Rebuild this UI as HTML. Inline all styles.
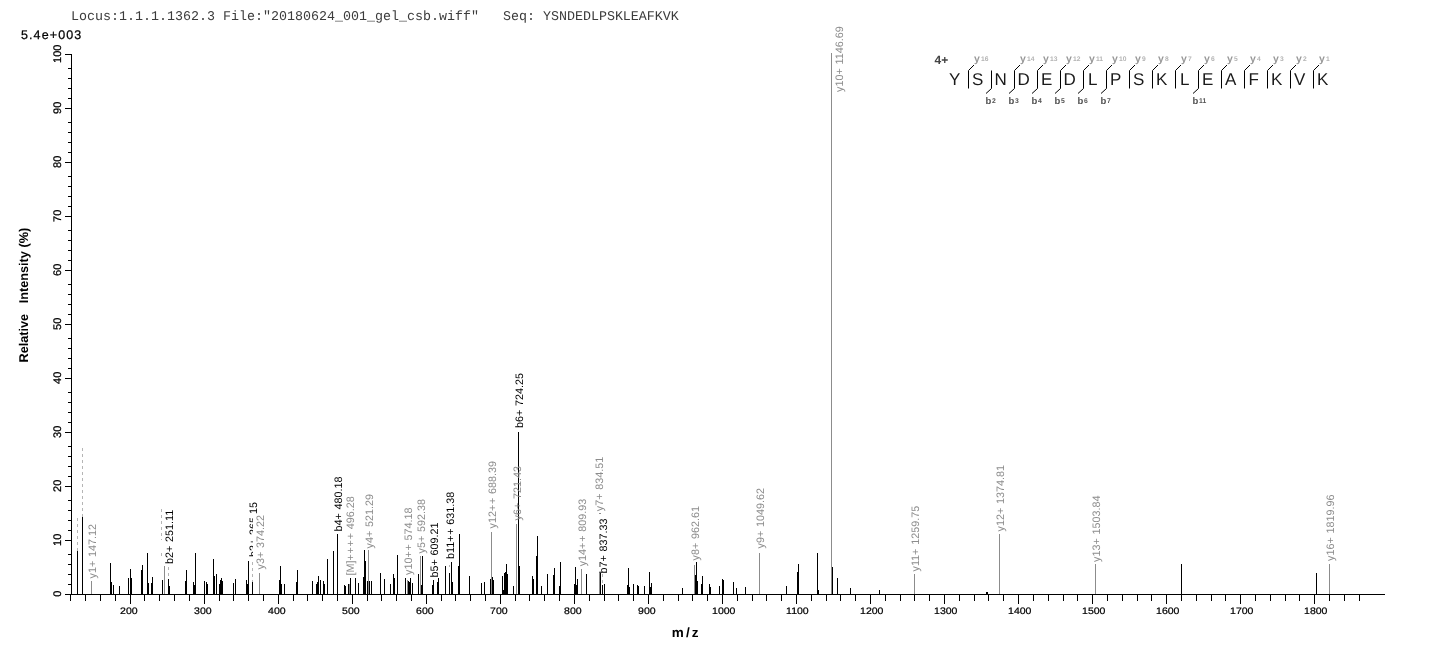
<!DOCTYPE html>
<html><head><meta charset="utf-8"><title>Spectrum</title>
<style>html,body{margin:0;padding:0;background:#fff;}body{width:1436px;height:654px;overflow:hidden;}svg{display:block;}</style>
</head><body>
<svg width="1436" height="654" viewBox="0 0 1436 654" shape-rendering="crispEdges" text-rendering="geometricPrecision">
<rect width="1436" height="654" fill="#fff"/>
<g id="peaks">
<rect x="77" y="551" width="1" height="43" fill="#000"/>
<rect x="82" y="517" width="1" height="77" fill="#000"/>
<rect x="91" y="581" width="1" height="13" fill="#8c8c8c"/>
<rect x="110" y="563" width="1" height="31" fill="#000"/>
<rect x="111" y="582" width="1" height="12" fill="#000"/>
<rect x="113" y="585" width="1" height="9" fill="#000"/>
<rect x="119" y="586" width="1" height="8" fill="#000"/>
<rect x="128" y="578" width="1" height="16" fill="#000"/>
<rect x="130" y="569" width="1" height="25" fill="#000"/>
<rect x="131" y="578" width="1" height="16" fill="#000"/>
<rect x="141" y="570" width="1" height="24" fill="#000"/>
<rect x="142" y="565" width="1" height="29" fill="#000"/>
<rect x="147" y="553" width="1" height="41" fill="#000"/>
<rect x="148" y="583" width="1" height="11" fill="#000"/>
<rect x="151" y="583" width="1" height="11" fill="#000"/>
<rect x="152" y="577" width="1" height="17" fill="#000"/>
<rect x="162" y="580" width="1" height="14" fill="#000"/>
<rect x="164" y="566" width="1" height="28" fill="#8c8c8c"/>
<rect x="168" y="579" width="1" height="15" fill="#000"/>
<rect x="169" y="586" width="1" height="8" fill="#000"/>
<rect x="185" y="581" width="1" height="13" fill="#000"/>
<rect x="186" y="570" width="1" height="24" fill="#000"/>
<rect x="193" y="582" width="1" height="12" fill="#000"/>
<rect x="194" y="585" width="1" height="9" fill="#000"/>
<rect x="195" y="553" width="1" height="41" fill="#000"/>
<rect x="204" y="581" width="1" height="13" fill="#000"/>
<rect x="206" y="582" width="1" height="12" fill="#000"/>
<rect x="207" y="584" width="1" height="10" fill="#000"/>
<rect x="213" y="559" width="1" height="35" fill="#000"/>
<rect x="214" y="576" width="1" height="18" fill="#000"/>
<rect x="216" y="574" width="1" height="20" fill="#000"/>
<rect x="219" y="584" width="1" height="10" fill="#000"/>
<rect x="220" y="580" width="1" height="14" fill="#000"/>
<rect x="221" y="578" width="1" height="16" fill="#000"/>
<rect x="222" y="581" width="1" height="13" fill="#000"/>
<rect x="233" y="583" width="1" height="11" fill="#000"/>
<rect x="235" y="579" width="1" height="15" fill="#000"/>
<rect x="246" y="580" width="1" height="14" fill="#000"/>
<rect x="247" y="584" width="1" height="10" fill="#000"/>
<rect x="248" y="561" width="1" height="33" fill="#000"/>
<rect x="252" y="582" width="1" height="12" fill="#000"/>
<rect x="259" y="573" width="1" height="21" fill="#8c8c8c"/>
<rect x="279" y="580" width="1" height="14" fill="#000"/>
<rect x="280" y="566" width="1" height="28" fill="#000"/>
<rect x="281" y="584" width="1" height="10" fill="#000"/>
<rect x="284" y="584" width="1" height="10" fill="#000"/>
<rect x="296" y="582" width="1" height="12" fill="#000"/>
<rect x="297" y="570" width="1" height="24" fill="#000"/>
<rect x="312" y="581" width="1" height="13" fill="#000"/>
<rect x="316" y="584" width="1" height="10" fill="#000"/>
<rect x="317" y="582" width="1" height="12" fill="#000"/>
<rect x="318" y="576" width="1" height="18" fill="#000"/>
<rect x="320" y="580" width="1" height="14" fill="#000"/>
<rect x="323" y="581" width="1" height="13" fill="#000"/>
<rect x="324" y="584" width="1" height="10" fill="#000"/>
<rect x="327" y="559" width="1" height="35" fill="#000"/>
<rect x="333" y="551" width="1" height="43" fill="#000"/>
<rect x="337" y="534" width="1" height="60" fill="#000"/>
<rect x="344" y="585" width="1" height="9" fill="#000"/>
<rect x="345" y="586" width="1" height="8" fill="#000"/>
<rect x="348" y="584" width="1" height="10" fill="#000"/>
<rect x="349" y="584" width="1" height="10" fill="#8c8c8c"/>
<rect x="350" y="578" width="1" height="16" fill="#000"/>
<rect x="355" y="578" width="1" height="16" fill="#000"/>
<rect x="358" y="583" width="1" height="11" fill="#000"/>
<rect x="363" y="577" width="1" height="17" fill="#000"/>
<rect x="364" y="550" width="1" height="44" fill="#000"/>
<rect x="365" y="561" width="1" height="33" fill="#000"/>
<rect x="367" y="581" width="1" height="13" fill="#000"/>
<rect x="368" y="550" width="1" height="44" fill="#8c8c8c"/>
<rect x="369" y="581" width="1" height="13" fill="#000"/>
<rect x="371" y="581" width="1" height="13" fill="#000"/>
<rect x="380" y="573" width="1" height="21" fill="#000"/>
<rect x="384" y="579" width="1" height="15" fill="#000"/>
<rect x="390" y="584" width="1" height="10" fill="#000"/>
<rect x="393" y="574" width="1" height="20" fill="#000"/>
<rect x="394" y="578" width="1" height="16" fill="#000"/>
<rect x="397" y="555" width="1" height="39" fill="#000"/>
<rect x="405" y="578" width="1" height="16" fill="#000"/>
<rect x="407" y="580" width="1" height="14" fill="#8c8c8c"/>
<rect x="408" y="581" width="1" height="13" fill="#000"/>
<rect x="409" y="582" width="1" height="12" fill="#000"/>
<rect x="410" y="578" width="1" height="16" fill="#000"/>
<rect x="412" y="583" width="1" height="11" fill="#000"/>
<rect x="418" y="574" width="1" height="20" fill="#000"/>
<rect x="420" y="556" width="1" height="38" fill="#8c8c8c"/>
<rect x="421" y="585" width="1" height="9" fill="#000"/>
<rect x="422" y="556" width="1" height="38" fill="#000"/>
<rect x="432" y="585" width="1" height="9" fill="#000"/>
<rect x="433" y="580" width="1" height="14" fill="#000"/>
<rect x="437" y="582" width="1" height="12" fill="#000"/>
<rect x="438" y="578" width="1" height="16" fill="#000"/>
<rect x="445" y="566" width="1" height="28" fill="#000"/>
<rect x="449" y="573" width="1" height="21" fill="#000"/>
<rect x="451" y="562" width="1" height="32" fill="#000"/>
<rect x="452" y="582" width="1" height="12" fill="#000"/>
<rect x="458" y="566" width="1" height="28" fill="#000"/>
<rect x="459" y="534" width="1" height="60" fill="#000"/>
<rect x="469" y="576" width="1" height="18" fill="#000"/>
<rect x="481" y="583" width="1" height="11" fill="#000"/>
<rect x="484" y="582" width="1" height="12" fill="#000"/>
<rect x="490" y="579" width="1" height="15" fill="#000"/>
<rect x="491" y="532" width="1" height="62" fill="#8c8c8c"/>
<rect x="492" y="577" width="1" height="17" fill="#000"/>
<rect x="493" y="580" width="1" height="14" fill="#000"/>
<rect x="502" y="576" width="1" height="18" fill="#000"/>
<rect x="503" y="590" width="1" height="4" fill="#000"/>
<rect x="504" y="573" width="1" height="21" fill="#000"/>
<rect x="505" y="572" width="1" height="22" fill="#000"/>
<rect x="506" y="564" width="1" height="30" fill="#000"/>
<rect x="507" y="574" width="1" height="20" fill="#000"/>
<rect x="513" y="586" width="1" height="8" fill="#000"/>
<rect x="516" y="524" width="1" height="70" fill="#8c8c8c"/>
<rect x="518" y="432" width="1" height="162" fill="#000"/>
<rect x="519" y="566" width="1" height="28" fill="#000"/>
<rect x="532" y="576" width="1" height="18" fill="#000"/>
<rect x="533" y="579" width="1" height="15" fill="#000"/>
<rect x="536" y="556" width="1" height="38" fill="#000"/>
<rect x="537" y="536" width="1" height="58" fill="#000"/>
<rect x="541" y="586" width="1" height="8" fill="#000"/>
<rect x="547" y="574" width="1" height="20" fill="#000"/>
<rect x="553" y="575" width="1" height="19" fill="#000"/>
<rect x="554" y="568" width="1" height="26" fill="#000"/>
<rect x="559" y="586" width="1" height="8" fill="#000"/>
<rect x="560" y="562" width="1" height="32" fill="#000"/>
<rect x="574" y="584" width="1" height="10" fill="#000"/>
<rect x="575" y="567" width="1" height="27" fill="#000"/>
<rect x="576" y="585" width="1" height="9" fill="#000"/>
<rect x="577" y="579" width="1" height="15" fill="#000"/>
<rect x="581" y="569" width="1" height="25" fill="#8c8c8c"/>
<rect x="586" y="574" width="1" height="20" fill="#000"/>
<rect x="599" y="573" width="1" height="21" fill="#8c8c8c"/>
<rect x="600" y="573" width="1" height="21" fill="#000"/>
<rect x="602" y="585" width="1" height="9" fill="#000"/>
<rect x="604" y="584" width="1" height="10" fill="#000"/>
<rect x="627" y="585" width="1" height="9" fill="#000"/>
<rect x="628" y="568" width="1" height="26" fill="#000"/>
<rect x="629" y="587" width="1" height="7" fill="#000"/>
<rect x="633" y="584" width="1" height="10" fill="#000"/>
<rect x="637" y="585" width="1" height="9" fill="#000"/>
<rect x="638" y="586" width="1" height="8" fill="#000"/>
<rect x="644" y="586" width="1" height="8" fill="#000"/>
<rect x="649" y="572" width="1" height="22" fill="#000"/>
<rect x="650" y="587" width="1" height="7" fill="#000"/>
<rect x="651" y="583" width="1" height="11" fill="#000"/>
<rect x="682" y="588" width="1" height="6" fill="#000"/>
<rect x="694" y="565" width="1" height="29" fill="#8c8c8c"/>
<rect x="695" y="575" width="1" height="19" fill="#000"/>
<rect x="696" y="562" width="1" height="32" fill="#000"/>
<rect x="697" y="581" width="1" height="13" fill="#000"/>
<rect x="701" y="584" width="1" height="10" fill="#000"/>
<rect x="702" y="576" width="1" height="18" fill="#000"/>
<rect x="709" y="584" width="1" height="10" fill="#000"/>
<rect x="710" y="587" width="1" height="7" fill="#000"/>
<rect x="719" y="586" width="1" height="8" fill="#000"/>
<rect x="722" y="579" width="1" height="15" fill="#000"/>
<rect x="723" y="580" width="1" height="14" fill="#000"/>
<rect x="733" y="582" width="1" height="12" fill="#000"/>
<rect x="736" y="588" width="1" height="6" fill="#000"/>
<rect x="745" y="587" width="1" height="7" fill="#000"/>
<rect x="759" y="553" width="1" height="41" fill="#8c8c8c"/>
<rect x="786" y="586" width="1" height="8" fill="#000"/>
<rect x="797" y="572" width="1" height="22" fill="#000"/>
<rect x="798" y="564" width="1" height="30" fill="#000"/>
<rect x="817" y="553" width="1" height="41" fill="#000"/>
<rect x="818" y="590" width="1" height="4" fill="#000"/>
<rect x="831" y="53" width="1" height="541" fill="#8c8c8c"/>
<rect x="832" y="567" width="1" height="27" fill="#000"/>
<rect x="837" y="578" width="1" height="16" fill="#000"/>
<rect x="850" y="588" width="1" height="6" fill="#000"/>
<rect x="879" y="590" width="1" height="4" fill="#000"/>
<rect x="914" y="574" width="1" height="20" fill="#8c8c8c"/>
<rect x="986" y="592" width="1" height="2" fill="#000"/>
<rect x="987" y="592" width="1" height="2" fill="#000"/>
<rect x="999" y="534" width="1" height="60" fill="#8c8c8c"/>
<rect x="1095" y="564" width="1" height="30" fill="#8c8c8c"/>
<rect x="1181" y="564" width="1" height="30" fill="#000"/>
<rect x="1316" y="573" width="1" height="21" fill="#000"/>
<rect x="1329" y="564" width="1" height="30" fill="#8c8c8c"/>
</g>
<g id="axes" fill="#000">
<rect x="71" y="54" width="1" height="541"/>
<rect x="71" y="594" width="1314" height="1"/>
<rect x="65" y="594" width="6" height="1"/>
<rect x="68" y="584" width="3" height="1"/>
<rect x="68" y="574" width="3" height="1"/>
<rect x="68" y="564" width="3" height="1"/>
<rect x="68" y="554" width="3" height="1"/>
<rect x="65" y="540" width="6" height="1"/>
<rect x="68" y="530" width="3" height="1"/>
<rect x="68" y="520" width="3" height="1"/>
<rect x="68" y="510" width="3" height="1"/>
<rect x="68" y="500" width="3" height="1"/>
<rect x="65" y="486" width="6" height="1"/>
<rect x="68" y="476" width="3" height="1"/>
<rect x="68" y="466" width="3" height="1"/>
<rect x="68" y="456" width="3" height="1"/>
<rect x="68" y="446" width="3" height="1"/>
<rect x="65" y="432" width="6" height="1"/>
<rect x="68" y="422" width="3" height="1"/>
<rect x="68" y="412" width="3" height="1"/>
<rect x="68" y="402" width="3" height="1"/>
<rect x="68" y="392" width="3" height="1"/>
<rect x="65" y="378" width="6" height="1"/>
<rect x="68" y="368" width="3" height="1"/>
<rect x="68" y="358" width="3" height="1"/>
<rect x="68" y="348" width="3" height="1"/>
<rect x="68" y="338" width="3" height="1"/>
<rect x="65" y="324" width="6" height="1"/>
<rect x="68" y="314" width="3" height="1"/>
<rect x="68" y="304" width="3" height="1"/>
<rect x="68" y="294" width="3" height="1"/>
<rect x="68" y="284" width="3" height="1"/>
<rect x="65" y="270" width="6" height="1"/>
<rect x="68" y="260" width="3" height="1"/>
<rect x="68" y="250" width="3" height="1"/>
<rect x="68" y="240" width="3" height="1"/>
<rect x="68" y="230" width="3" height="1"/>
<rect x="65" y="216" width="6" height="1"/>
<rect x="68" y="206" width="3" height="1"/>
<rect x="68" y="196" width="3" height="1"/>
<rect x="68" y="186" width="3" height="1"/>
<rect x="68" y="176" width="3" height="1"/>
<rect x="65" y="162" width="6" height="1"/>
<rect x="68" y="152" width="3" height="1"/>
<rect x="68" y="142" width="3" height="1"/>
<rect x="68" y="132" width="3" height="1"/>
<rect x="68" y="122" width="3" height="1"/>
<rect x="65" y="108" width="6" height="1"/>
<rect x="68" y="98" width="3" height="1"/>
<rect x="68" y="88" width="3" height="1"/>
<rect x="68" y="78" width="3" height="1"/>
<rect x="68" y="68" width="3" height="1"/>
<rect x="65" y="54" width="6" height="1"/>
<rect x="70" y="594" width="1" height="7"/>
<rect x="85" y="594" width="1" height="7"/>
<rect x="100" y="594" width="1" height="7"/>
<rect x="115" y="594" width="1" height="7"/>
<rect x="130" y="594" width="1" height="10"/>
<rect x="144" y="594" width="1" height="7"/>
<rect x="159" y="594" width="1" height="7"/>
<rect x="174" y="594" width="1" height="7"/>
<rect x="189" y="594" width="1" height="7"/>
<rect x="204" y="594" width="1" height="10"/>
<rect x="219" y="594" width="1" height="7"/>
<rect x="233" y="594" width="1" height="7"/>
<rect x="248" y="594" width="1" height="7"/>
<rect x="263" y="594" width="1" height="7"/>
<rect x="278" y="594" width="1" height="10"/>
<rect x="293" y="594" width="1" height="7"/>
<rect x="307" y="594" width="1" height="7"/>
<rect x="322" y="594" width="1" height="7"/>
<rect x="337" y="594" width="1" height="7"/>
<rect x="352" y="594" width="1" height="10"/>
<rect x="367" y="594" width="1" height="7"/>
<rect x="381" y="594" width="1" height="7"/>
<rect x="396" y="594" width="1" height="7"/>
<rect x="411" y="594" width="1" height="7"/>
<rect x="426" y="594" width="1" height="10"/>
<rect x="441" y="594" width="1" height="7"/>
<rect x="455" y="594" width="1" height="7"/>
<rect x="470" y="594" width="1" height="7"/>
<rect x="485" y="594" width="1" height="7"/>
<rect x="500" y="594" width="1" height="10"/>
<rect x="515" y="594" width="1" height="7"/>
<rect x="529" y="594" width="1" height="7"/>
<rect x="544" y="594" width="1" height="7"/>
<rect x="559" y="594" width="1" height="7"/>
<rect x="574" y="594" width="1" height="10"/>
<rect x="589" y="594" width="1" height="7"/>
<rect x="604" y="594" width="1" height="7"/>
<rect x="618" y="594" width="1" height="7"/>
<rect x="633" y="594" width="1" height="7"/>
<rect x="648" y="594" width="1" height="10"/>
<rect x="663" y="594" width="1" height="7"/>
<rect x="678" y="594" width="1" height="7"/>
<rect x="692" y="594" width="1" height="7"/>
<rect x="707" y="594" width="1" height="7"/>
<rect x="722" y="594" width="1" height="10"/>
<rect x="737" y="594" width="1" height="7"/>
<rect x="752" y="594" width="1" height="7"/>
<rect x="766" y="594" width="1" height="7"/>
<rect x="781" y="594" width="1" height="7"/>
<rect x="796" y="594" width="1" height="10"/>
<rect x="811" y="594" width="1" height="7"/>
<rect x="826" y="594" width="1" height="7"/>
<rect x="840" y="594" width="1" height="7"/>
<rect x="855" y="594" width="1" height="7"/>
<rect x="870" y="594" width="1" height="10"/>
<rect x="885" y="594" width="1" height="7"/>
<rect x="900" y="594" width="1" height="7"/>
<rect x="914" y="594" width="1" height="7"/>
<rect x="929" y="594" width="1" height="7"/>
<rect x="944" y="594" width="1" height="10"/>
<rect x="959" y="594" width="1" height="7"/>
<rect x="974" y="594" width="1" height="7"/>
<rect x="988" y="594" width="1" height="7"/>
<rect x="1003" y="594" width="1" height="7"/>
<rect x="1018" y="594" width="1" height="10"/>
<rect x="1033" y="594" width="1" height="7"/>
<rect x="1048" y="594" width="1" height="7"/>
<rect x="1063" y="594" width="1" height="7"/>
<rect x="1077" y="594" width="1" height="7"/>
<rect x="1092" y="594" width="1" height="10"/>
<rect x="1107" y="594" width="1" height="7"/>
<rect x="1122" y="594" width="1" height="7"/>
<rect x="1137" y="594" width="1" height="7"/>
<rect x="1151" y="594" width="1" height="7"/>
<rect x="1166" y="594" width="1" height="10"/>
<rect x="1181" y="594" width="1" height="7"/>
<rect x="1196" y="594" width="1" height="7"/>
<rect x="1211" y="594" width="1" height="7"/>
<rect x="1225" y="594" width="1" height="7"/>
<rect x="1240" y="594" width="1" height="10"/>
<rect x="1255" y="594" width="1" height="7"/>
<rect x="1270" y="594" width="1" height="7"/>
<rect x="1285" y="594" width="1" height="7"/>
<rect x="1299" y="594" width="1" height="7"/>
<rect x="1314" y="594" width="1" height="10"/>
<rect x="1329" y="594" width="1" height="7"/>
<rect x="1344" y="594" width="1" height="7"/>
<rect x="1359" y="594" width="1" height="7"/>
</g>
<g font-family="Liberation Sans, Arial, sans-serif" font-size="10.5" fill="#000" stroke="#000" stroke-width="0.25">
<text transform="translate(60.8,593.8) rotate(-90)" text-anchor="middle" font-size="11">0</text>
<text transform="translate(60.8,539.8) rotate(-90)" text-anchor="middle" font-size="11">10</text>
<text transform="translate(60.8,485.8) rotate(-90)" text-anchor="middle" font-size="11">20</text>
<text transform="translate(60.8,431.8) rotate(-90)" text-anchor="middle" font-size="11">30</text>
<text transform="translate(60.8,377.8) rotate(-90)" text-anchor="middle" font-size="11">40</text>
<text transform="translate(60.8,323.8) rotate(-90)" text-anchor="middle" font-size="11">50</text>
<text transform="translate(60.8,269.8) rotate(-90)" text-anchor="middle" font-size="11">60</text>
<text transform="translate(60.8,215.8) rotate(-90)" text-anchor="middle" font-size="11">70</text>
<text transform="translate(60.8,161.8) rotate(-90)" text-anchor="middle" font-size="11">80</text>
<text transform="translate(60.8,107.8) rotate(-90)" text-anchor="middle" font-size="11">90</text>
<text transform="translate(60.8,53.8) rotate(-90)" text-anchor="middle" font-size="11">100</text>
<text transform="translate(120.1,613.6) scale(1,0.9)">200</text>
<text transform="translate(194.1,613.6) scale(1,0.9)">300</text>
<text transform="translate(268.1,613.6) scale(1,0.9)">400</text>
<text transform="translate(342.1,613.6) scale(1,0.9)">500</text>
<text transform="translate(416.1,613.6) scale(1,0.9)">600</text>
<text transform="translate(490.1,613.6) scale(1,0.9)">700</text>
<text transform="translate(564.1,613.6) scale(1,0.9)">800</text>
<text transform="translate(638.1,613.6) scale(1,0.9)">900</text>
<text transform="translate(712.1,613.6) scale(1,0.9)">1000</text>
<text transform="translate(786.1,613.6) scale(1,0.9)">1100</text>
<text transform="translate(860.1,613.6) scale(1,0.9)">1200</text>
<text transform="translate(934.1,613.6) scale(1,0.9)">1300</text>
<text transform="translate(1008.1,613.6) scale(1,0.9)">1400</text>
<text transform="translate(1082.1,613.6) scale(1,0.9)">1500</text>
<text transform="translate(1156.1,613.6) scale(1,0.9)">1600</text>
<text transform="translate(1230.1,613.6) scale(1,0.9)">1700</text>
<text transform="translate(1304.1,613.6) scale(1,0.9)">1800</text>
</g>
<text x="21" y="39" font-family="Liberation Sans, Arial, sans-serif" font-size="12.5" letter-spacing="1.1" fill="#000" stroke="#000" stroke-width="0.25">5.4e+003</text>
<text transform="translate(28.4,362.5) rotate(-90)" font-family="Liberation Sans, Arial, sans-serif" font-weight="bold" font-size="12.7" fill="#000" xml:space="preserve" style="white-space:pre">Relative   Intensity (%)</text>
<text x="671.8" y="636.8" font-family="Liberation Sans, Arial, sans-serif" font-weight="bold" font-size="13.5" letter-spacing="2.1" fill="#000">m/z</text>
<text x="71" y="20" font-family="Liberation Mono, Courier New, monospace" font-size="13.33" fill="#3c3c3c" xml:space="preserve" style="white-space:pre">Locus:1.1.1.1362.3 File:"20180624_001_gel_csb.wiff"   Seq: YSNDEDLPSKLEAFKVK</text>
<line x1="77.5" y1="518" x2="77.5" y2="551" stroke="#b5b5b5" stroke-width="1" stroke-dasharray="3 3"/>
<line x1="82.5" y1="448" x2="82.5" y2="517" stroke="#b5b5b5" stroke-width="1" stroke-dasharray="3 3"/>
<line x1="161.5" y1="509" x2="161.5" y2="540" stroke="#b5b5b5" stroke-width="1" stroke-dasharray="3 3"/>
<line x1="161.5" y1="553" x2="161.5" y2="556" stroke="#b5b5b5" stroke-width="1" stroke-dasharray="3 3"/>
<line x1="168.5" y1="567" x2="168.5" y2="579" stroke="#b5b5b5" stroke-width="1" stroke-dasharray="3 3"/>
<line x1="252.5" y1="562" x2="252.5" y2="582" stroke="#b5b5b5" stroke-width="1" stroke-dasharray="3 3"/>
<line x1="449.5" y1="565" x2="449.5" y2="567" stroke="#b5b5b5" stroke-width="1" stroke-dasharray="3 3"/>
<line x1="602.5" y1="574" x2="602.5" y2="585" stroke="#b5b5b5" stroke-width="1" stroke-dasharray="3 3"/>
<rect x="598.5" y="513" width="2.5" height="1" fill="#8c8c8c"/>
<g font-family="Liberation Sans, Arial, sans-serif" font-size="10.8">
<text transform="translate(95.6,578.5) rotate(-90)" fill="#8c8c8c">y1<tspan letter-spacing="0.75">+</tspan> 147.12</text>
<text transform="translate(173,564) rotate(-90)" fill="#000">b2<tspan letter-spacing="0.75">+</tspan> 251.11</text>
<text transform="translate(257,557) rotate(-90)" fill="#000">b3<tspan letter-spacing="0.75">+</tspan> 365.15</text>
<rect x="253" y="514" width="13" height="56" fill="#fff"/>
<rect x="259" y="573" width="1" height="21" fill="#8c8c8c"/>
<text transform="translate(264,569.5) rotate(-90)" fill="#8c8c8c">y3<tspan letter-spacing="0.75">+</tspan> 374.22</text>
<text transform="translate(342,531.5) rotate(-90)" fill="#000">b4<tspan letter-spacing="0.75">+</tspan> 480.18</text>
<text transform="translate(354,575.5) rotate(-90)" fill="#8c8c8c">[M]<tspan letter-spacing="0.75">+</tspan><tspan letter-spacing="0.75">+</tspan><tspan letter-spacing="0.75">+</tspan><tspan letter-spacing="0.75">+</tspan> 496.28</text>
<text transform="translate(373,548.5) rotate(-90)" fill="#8c8c8c">y4<tspan letter-spacing="0.75">+</tspan> 521.29</text>
<text transform="translate(412,575) rotate(-90)" fill="#8c8c8c">y10<tspan letter-spacing="0.75">+</tspan><tspan letter-spacing="0.75">+</tspan> 574.18</text>
<text transform="translate(424.5,553.5) rotate(-90)" fill="#8c8c8c">y5<tspan letter-spacing="0.75">+</tspan> 592.38</text>
<text transform="translate(438,577.5) rotate(-90)" fill="#000">b5<tspan letter-spacing="0.75">+</tspan> 609.21</text>
<text transform="translate(454,559) rotate(-90)" fill="#000">b11<tspan letter-spacing="0.75">+</tspan><tspan letter-spacing="0.75">+</tspan> 631.38</text>
<text transform="translate(496,528.5) rotate(-90)" fill="#8c8c8c">y12<tspan letter-spacing="0.75">+</tspan><tspan letter-spacing="0.75">+</tspan> 688.39</text>
<text transform="translate(520.8,520.4) rotate(-90)" fill="#8c8c8c">y6<tspan letter-spacing="0.75">+</tspan> 721.43</text>
<text transform="translate(523,428) rotate(-90)" fill="#000">b6<tspan letter-spacing="0.75">+</tspan> 724.25</text>
<text transform="translate(586,566.3) rotate(-90)" fill="#8c8c8c">y14<tspan letter-spacing="0.75">+</tspan><tspan letter-spacing="0.75">+</tspan> 809.93</text>
<text transform="translate(603.2,511.2) rotate(-90)" fill="#8c8c8c">y7<tspan letter-spacing="0.75">+</tspan> 834.51</text>
<text transform="translate(607,573.6) rotate(-90)" fill="#000">b7<tspan letter-spacing="0.75">+</tspan> 837.33</text>
<text transform="translate(698.5,560.4) rotate(-90)" fill="#8c8c8c">y8<tspan letter-spacing="0.75">+</tspan> 962.61</text>
<text transform="translate(764,548.5) rotate(-90)" fill="#8c8c8c">y9<tspan letter-spacing="0.75">+</tspan> 1049.62</text>
<text transform="translate(842.6,92) rotate(-90)" fill="#8c8c8c">y10<tspan letter-spacing="0.75">+</tspan> 1146.69</text>
<text transform="translate(919,571.5) rotate(-90)" fill="#8c8c8c">y11<tspan letter-spacing="0.75">+</tspan> 1259.75</text>
<text transform="translate(1004,531.5) rotate(-90)" fill="#8c8c8c">y12<tspan letter-spacing="0.75">+</tspan> 1374.81</text>
<text transform="translate(1100,562) rotate(-90)" fill="#8c8c8c">y13<tspan letter-spacing="0.75">+</tspan> 1503.84</text>
<text transform="translate(1334,561) rotate(-90)" fill="#8c8c8c">y16<tspan letter-spacing="0.75">+</tspan> 1819.96</text>
</g>
<g font-family="Liberation Sans, Arial, sans-serif">
<text x="934.5" y="63.9" font-size="12" font-weight="bold" fill="#444">4+</text>
<text x="954.7" y="85" font-size="17" text-anchor="middle" fill="#1a1a1a">Y</text>
<text x="977.7" y="85" font-size="17" text-anchor="middle" fill="#1a1a1a">S</text>
<text x="1000.7" y="85" font-size="17" text-anchor="middle" fill="#1a1a1a">N</text>
<text x="1023.7" y="85" font-size="17" text-anchor="middle" fill="#1a1a1a">D</text>
<text x="1046.7" y="85" font-size="17" text-anchor="middle" fill="#1a1a1a">E</text>
<text x="1069.7" y="85" font-size="17" text-anchor="middle" fill="#1a1a1a">D</text>
<text x="1092.7" y="85" font-size="17" text-anchor="middle" fill="#1a1a1a">L</text>
<text x="1115.7" y="85" font-size="17" text-anchor="middle" fill="#1a1a1a">P</text>
<text x="1138.7" y="85" font-size="17" text-anchor="middle" fill="#1a1a1a">S</text>
<text x="1161.7" y="85" font-size="17" text-anchor="middle" fill="#1a1a1a">K</text>
<text x="1184.7" y="85" font-size="17" text-anchor="middle" fill="#1a1a1a">L</text>
<text x="1207.7" y="85" font-size="17" text-anchor="middle" fill="#1a1a1a">E</text>
<text x="1230.7" y="85" font-size="17" text-anchor="middle" fill="#1a1a1a">A</text>
<text x="1253.7" y="85" font-size="17" text-anchor="middle" fill="#1a1a1a">F</text>
<text x="1276.7" y="85" font-size="17" text-anchor="middle" fill="#1a1a1a">K</text>
<text x="1299.7" y="85" font-size="17" text-anchor="middle" fill="#1a1a1a">V</text>
<text x="1322.7" y="85" font-size="17" text-anchor="middle" fill="#1a1a1a">K</text>
<polyline points="974.0,65.0 968.5,70.5 968.5,88.5" fill="none" stroke="#000" stroke-width="1" shape-rendering="auto"/>
<text x="973.9" y="62" font-size="10.5" font-weight="bold" fill="#999">y<tspan font-size="6.7" dx="1.2" dy="-1.2" font-weight="bold" fill="#b4b4b4">16</tspan></text>
<polyline points="991.5,70.5 991.5,88.5 986.0,93.5" fill="none" stroke="#000" stroke-width="1" shape-rendering="auto"/>
<text x="985.5" y="103.7" font-size="9.5" font-weight="bold" fill="#555">b<tspan font-size="6.8" dx="0.8" dy="-0.6" fill="#555">2</tspan></text>
<polyline points="1020.0,65.0 1014.5,70.5 1014.5,88.5 1009.0,93.5" fill="none" stroke="#000" stroke-width="1" shape-rendering="auto"/>
<text x="1019.9" y="62" font-size="10.5" font-weight="bold" fill="#999">y<tspan font-size="6.7" dx="1.2" dy="-1.2" font-weight="bold" fill="#b4b4b4">14</tspan></text>
<text x="1008.5" y="103.7" font-size="9.5" font-weight="bold" fill="#555">b<tspan font-size="6.8" dx="0.8" dy="-0.6" fill="#555">3</tspan></text>
<polyline points="1043.0,65.0 1037.5,70.5 1037.5,88.5 1032.0,93.5" fill="none" stroke="#000" stroke-width="1" shape-rendering="auto"/>
<text x="1042.9" y="62" font-size="10.5" font-weight="bold" fill="#999">y<tspan font-size="6.7" dx="1.2" dy="-1.2" font-weight="bold" fill="#b4b4b4">13</tspan></text>
<text x="1031.5" y="103.7" font-size="9.5" font-weight="bold" fill="#555">b<tspan font-size="6.8" dx="0.8" dy="-0.6" fill="#555">4</tspan></text>
<polyline points="1066.0,65.0 1060.5,70.5 1060.5,88.5 1055.0,93.5" fill="none" stroke="#000" stroke-width="1" shape-rendering="auto"/>
<text x="1065.9" y="62" font-size="10.5" font-weight="bold" fill="#999">y<tspan font-size="6.7" dx="1.2" dy="-1.2" font-weight="bold" fill="#b4b4b4">12</tspan></text>
<text x="1054.5" y="103.7" font-size="9.5" font-weight="bold" fill="#555">b<tspan font-size="6.8" dx="0.8" dy="-0.6" fill="#555">5</tspan></text>
<polyline points="1089.0,65.0 1083.5,70.5 1083.5,88.5 1078.0,93.5" fill="none" stroke="#000" stroke-width="1" shape-rendering="auto"/>
<text x="1088.9" y="62" font-size="10.5" font-weight="bold" fill="#999">y<tspan font-size="6.7" dx="1.2" dy="-1.2" font-weight="bold" fill="#b4b4b4">11</tspan></text>
<text x="1077.5" y="103.7" font-size="9.5" font-weight="bold" fill="#555">b<tspan font-size="6.8" dx="0.8" dy="-0.6" fill="#555">6</tspan></text>
<polyline points="1112.0,65.0 1106.5,70.5 1106.5,88.5 1101.0,93.5" fill="none" stroke="#000" stroke-width="1" shape-rendering="auto"/>
<text x="1111.9" y="62" font-size="10.5" font-weight="bold" fill="#999">y<tspan font-size="6.7" dx="1.2" dy="-1.2" font-weight="bold" fill="#b4b4b4">10</tspan></text>
<text x="1100.5" y="103.7" font-size="9.5" font-weight="bold" fill="#555">b<tspan font-size="6.8" dx="0.8" dy="-0.6" fill="#555">7</tspan></text>
<polyline points="1135.0,65.0 1129.5,70.5 1129.5,88.5" fill="none" stroke="#000" stroke-width="1" shape-rendering="auto"/>
<text x="1134.9" y="62" font-size="10.5" font-weight="bold" fill="#999">y<tspan font-size="6.7" dx="1.2" dy="-1.2" font-weight="bold" fill="#b4b4b4">9</tspan></text>
<polyline points="1158.0,65.0 1152.5,70.5 1152.5,88.5" fill="none" stroke="#000" stroke-width="1" shape-rendering="auto"/>
<text x="1157.9" y="62" font-size="10.5" font-weight="bold" fill="#999">y<tspan font-size="6.7" dx="1.2" dy="-1.2" font-weight="bold" fill="#b4b4b4">8</tspan></text>
<polyline points="1181.0,65.0 1175.5,70.5 1175.5,88.5" fill="none" stroke="#000" stroke-width="1" shape-rendering="auto"/>
<text x="1180.9" y="62" font-size="10.5" font-weight="bold" fill="#999">y<tspan font-size="6.7" dx="1.2" dy="-1.2" font-weight="bold" fill="#b4b4b4">7</tspan></text>
<polyline points="1204.0,65.0 1198.5,70.5 1198.5,88.5 1193.0,93.5" fill="none" stroke="#000" stroke-width="1" shape-rendering="auto"/>
<text x="1203.9" y="62" font-size="10.5" font-weight="bold" fill="#999">y<tspan font-size="6.7" dx="1.2" dy="-1.2" font-weight="bold" fill="#b4b4b4">6</tspan></text>
<text x="1192.5" y="103.7" font-size="9.5" font-weight="bold" fill="#555">b<tspan font-size="6.8" dx="0.8" dy="-0.6" fill="#555">11</tspan></text>
<polyline points="1227.0,65.0 1221.5,70.5 1221.5,88.5" fill="none" stroke="#000" stroke-width="1" shape-rendering="auto"/>
<text x="1226.9" y="62" font-size="10.5" font-weight="bold" fill="#999">y<tspan font-size="6.7" dx="1.2" dy="-1.2" font-weight="bold" fill="#b4b4b4">5</tspan></text>
<polyline points="1250.0,65.0 1244.5,70.5 1244.5,88.5" fill="none" stroke="#000" stroke-width="1" shape-rendering="auto"/>
<text x="1249.9" y="62" font-size="10.5" font-weight="bold" fill="#999">y<tspan font-size="6.7" dx="1.2" dy="-1.2" font-weight="bold" fill="#b4b4b4">4</tspan></text>
<polyline points="1273.0,65.0 1267.5,70.5 1267.5,88.5" fill="none" stroke="#000" stroke-width="1" shape-rendering="auto"/>
<text x="1272.9" y="62" font-size="10.5" font-weight="bold" fill="#999">y<tspan font-size="6.7" dx="1.2" dy="-1.2" font-weight="bold" fill="#b4b4b4">3</tspan></text>
<polyline points="1296.0,65.0 1290.5,70.5 1290.5,88.5" fill="none" stroke="#000" stroke-width="1" shape-rendering="auto"/>
<text x="1295.9" y="62" font-size="10.5" font-weight="bold" fill="#999">y<tspan font-size="6.7" dx="1.2" dy="-1.2" font-weight="bold" fill="#b4b4b4">2</tspan></text>
<polyline points="1319.0,65.0 1313.5,70.5 1313.5,88.5" fill="none" stroke="#000" stroke-width="1" shape-rendering="auto"/>
<text x="1318.9" y="62" font-size="10.5" font-weight="bold" fill="#999">y<tspan font-size="6.7" dx="1.2" dy="-1.2" font-weight="bold" fill="#b4b4b4">1</tspan></text>
</g>
</svg>
</body></html>
